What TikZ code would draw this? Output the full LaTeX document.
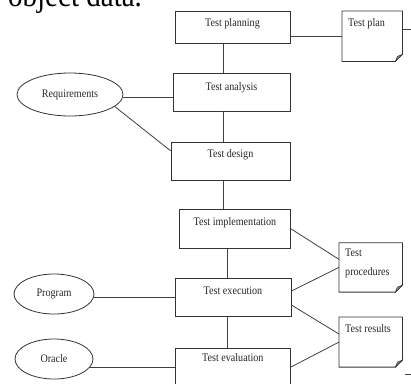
\documentclass[tikz,border=0pt]{standalone}
\usepackage{fontspec}
\setmainfont{Liberation Serif}[FakeStretch=0.88]
\usetikzlibrary{shapes.geometric}
\newcommand\dogear[1]{%
  \draw[black!80, line width=0.8pt] (#1.north west) -- (#1.north east) -- ([yshift=7pt]#1.south east) -- ([xshift=-7pt]#1.south east) -- (#1.south west) -- cycle;
  \filldraw[black!80, fill=black!45, line width=0.5pt] ([yshift=7pt]#1.south east) -- ([xshift=-7pt]#1.south east) -- ([xshift=-5pt,yshift=5pt]#1.south east) -- cycle;}
\begin{document}
\begin{tikzpicture}[x=1pt,y=-1pt,
  every node/.style={font=\fontsize{11.5}{19}\selectfont, text=black!85},
  conn/.style={draw=black!75, line width=0.8pt},
  box/.style={draw=black!80, line width=0.8pt, inner sep=0pt},
  oval/.style={ellipse, draw=black!80, line width=0.8pt, inner sep=0pt},
  docnode/.style={inner sep=0pt, anchor=north west},
  doctext/.style={inner sep=0pt, anchor=north west, align=left}]
\useasboundingbox (0,0) rectangle (411,383);
\clip (0,0) rectangle (411,383);

\node[font=\fontsize{33}{36}\selectfont, anchor=base west, inner sep=0pt, text=black] (headtxt) at (-9,6) {r object data.};

% process boxes
\node[box, minimum width=115pt, text height=15pt, text depth=17pt] (plan) at (232.5,27) {Test planning};
\node[box, minimum width=117pt, text height=17pt, text depth=21pt] (analysis) at (231.5,92) {Test analysis};
\node[box, minimum width=119pt, text height=15pt, text depth=22.3pt] (design) at (230.5,161.3) {Test design};
\node[box, minimum width=111.2pt, text height=16pt, text depth=23pt] (impl) at (234.9,228.8) {Test implementation};
\node[box, minimum width=116pt, text height=16pt, text depth=22.4pt] (exec) at (233,297.5) {Test execution};
\node[box, minimum width=115.7pt, text height=13pt, text depth=25pt] (eval) at (232.8,367) {Test evaluation};

% inputs
\node[oval, minimum width=106pt, minimum height=43pt] (req) at (70,94.5) {Requirements};
\node[oval, minimum width=80pt, minimum height=40pt] (prog) at (54,294) {Program};
\node[oval, minimum width=78pt, minimum height=40pt] (oracle) at (54,359) {Oracle};

% documents
\node[docnode, minimum width=60pt, minimum height=50pt] (tplan) at (342,11) {};
\node[docnode, minimum width=63pt, minimum height=49pt] (tproc) at (339,242.7) {};
\node[docnode, minimum width=63pt, minimum height=49.7pt] (tres) at (339,317) {};
\dogear{tplan}
\dogear{tproc}
\dogear{tres}
\node[doctext] (tplant) at ([xshift=6pt,yshift=-7.5pt]tplan.north west) {Test plan};
\node[doctext] (tproct) at ([xshift=6pt,yshift=-6.5pt]tproc.north west) {Test\\procedures};
\node[doctext] (trest) at ([xshift=6pt,yshift=-7.5pt]tres.north west) {Test results};

% connectors
\coordinate (spA) at (223.3,0);
\coordinate (spB) at (227.5,0);
\coordinate (lvlR) at (0,97.7);
\coordinate (stubA) at (405,374);
\draw[conn] (plan.south -| spA) -- (analysis.north -| spA);
\draw[conn] (analysis.south -| spA) -- (design.north -| spA);
\draw[conn] (design.south -| spA) -- (impl.north -| spA);
\draw[conn] (impl.south -| spB) -- (exec.north -| spB);
\draw[conn] (exec.south -| spB) -- (eval.north -| spB);
\draw[conn] (plan.east |- tplan.west) -- (tplan.west);
\draw[conn] (req.east |- lvlR) -- (analysis.west |- lvlR);
\draw[conn] (req.-15) -- ([yshift=10.5pt]design.west);
\draw[conn] (prog.east |- exec.west) -- (exec.west);
\draw[conn] (oracle.-12 |- eval.west) -- (eval.west);
\draw[conn] (impl.east) -- ([yshift=8pt]tproc.west);
\draw[conn] ([yshift=6.5pt]exec.east) -- (tproc.west);
\draw[conn] ([yshift=-7.5pt]exec.east) -- ([yshift=8pt]tres.west);
\draw[conn] (eval.east) -- (tres.west);
\draw[conn] ([yshift=7pt]tplan.east) -- ++(12,0);
\draw[conn] (stubA) -- ++(8,0);
\end{tikzpicture}
\end{document}
